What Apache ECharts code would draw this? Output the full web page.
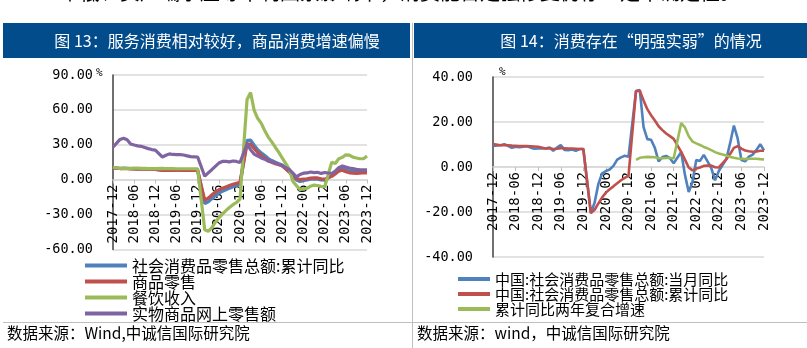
<!DOCTYPE html>
<html><head><meta charset="utf-8">
<script src="https://cdn.jsdelivr.net/npm/echarts@6/dist/echarts.min.js"></script>
<style>html,body{margin:0;padding:0;background:#fff}#c{width:807px;height:348px}</style>
</head><body><div id="c"></div>
<script>
const months = [
 '2017-12',
 '2018-01','2018-02','2018-03','2018-04','2018-05','2018-06','2018-07','2018-08','2018-09','2018-10','2018-11','2018-12',
 '2019-01','2019-02','2019-03','2019-04','2019-05','2019-06','2019-07','2019-08','2019-09','2019-10','2019-11','2019-12',
 '2020-01','2020-02','2020-03','2020-04','2020-05','2020-06','2020-07','2020-08','2020-09','2020-10','2020-11','2020-12',
 '2021-01','2021-02','2021-03','2021-04','2021-05','2021-06','2021-07','2021-08','2021-09','2021-10','2021-11','2021-12',
 '2022-01','2022-02','2022-03','2022-04','2022-05','2022-06','2022-07','2022-08','2022-09','2022-10','2022-11','2022-12',
 '2023-01','2023-02','2023-03','2023-04','2023-05','2023-06','2023-07','2023-08','2023-09','2023-10','2023-11','2023-12'
];
// Figure 13 (cumulative YoY, %)
const retailTotalCum = [10.2,
 null,9.7,9.8,9.7,9.5,9.4,9.3,9.3,9.3,9.2,9.1,9.0,
 null,8.2,8.3,8.0,8.1,8.4,8.3,8.2,8.2,8.1,8.0,8.0,
 null,-20.5,-19.0,-16.2,-13.5,-11.4,-9.9,-8.6,-7.2,-5.9,-4.8,-3.9,
 null,33.8,33.9,29.6,25.7,23.0,20.7,18.1,16.4,14.9,13.7,12.5,
 null,6.7,3.3,-0.2,-1.5,-0.7,-0.2,0.5,0.7,0.6,-0.1,-0.2,
 null,3.5,5.8,8.5,9.3,8.2,7.3,7.0,6.8,6.9,7.2,7.2];
const goodsRetail = [10.2,
 null,9.6,9.6,9.5,9.3,9.2,9.1,9.1,9.1,9.0,8.9,8.9,
 null,8.0,8.2,7.9,7.9,8.3,8.1,8.1,8.0,8.0,7.9,7.9,
 null,-17.6,-15.8,-13.1,-10.5,-8.7,-7.4,-6.2,-5.0,-3.9,-3.0,-2.3,
 null,30.7,30.4,26.8,23.4,20.6,18.5,16.5,15.0,13.7,12.8,11.8,
 null,6.5,4.0,1.1,0.1,0.5,0.8,1.4,1.5,1.5,0.7,0.5,
 null,2.9,4.9,7.4,8.1,6.8,5.9,5.6,5.5,5.7,6.0,5.8];
const cateringIncome = [10.7,
 null,9.6,9.7,9.8,9.7,9.9,9.9,9.8,9.8,9.6,9.5,9.5,
 null,9.7,9.6,9.6,9.5,9.4,9.4,9.4,9.4,9.4,9.4,9.4,
 null,-43.1,-44.3,-41.4,-36.5,-32.8,-29.6,-26.6,-23.9,-21.5,-19.6,-16.6,
 null,68.9,75.0,59.8,52.8,48.6,42.3,36.6,32.5,27.9,23.4,18.6,
 null,8.9,-1.5,-5.1,-8.5,-7.7,-7.5,-5.6,-4.6,-5.0,-5.7,-6.3,
 null,15.1,13.9,18.0,19.2,21.4,21.1,19.4,18.7,18.0,18.0,20.4];
const onlineGoods = [28.0,
 null,34.6,35.7,34.4,30.7,29.8,29.1,28.7,27.7,26.7,25.9,25.4,
 null,19.5,21.0,22.2,21.7,21.6,21.6,21.2,20.5,19.8,19.7,19.5,
 null,3.0,5.9,8.6,11.5,14.3,15.7,15.8,15.3,16.1,15.7,14.8,
 null,30.6,25.8,22.0,20.4,18.7,17.6,15.9,15.2,14.6,13.2,12.0,
 null,8.7,5.6,2.5,4.5,5.6,5.8,6.6,6.1,6.4,5.4,6.2,
 null,5.3,7.3,10.4,11.8,10.8,10.0,9.5,8.9,8.4,8.5,8.4];
// Figure 14 (%)
const retailMonthly = [9.4,
 null,9.7,10.1,9.4,8.5,9.0,8.8,9.0,9.2,8.6,8.1,8.2,
 null,8.2,8.7,7.2,8.6,9.8,7.6,7.5,7.8,7.2,8.0,8.0,
 null,-20.5,-15.8,-7.5,-2.8,-1.8,-1.1,0.5,3.3,4.3,5.0,4.6,
 null,33.8,34.2,17.7,12.4,12.1,8.5,2.5,4.4,4.9,3.9,1.7,
 null,6.7,-3.5,-11.1,-6.7,3.1,2.7,5.4,2.5,-0.5,-5.9,-1.8,
 null,3.5,10.6,18.4,12.7,3.1,2.5,4.6,5.5,7.6,10.1,7.4];
const retailCum = [10.2,
 null,9.7,9.8,9.7,9.5,9.4,9.3,9.3,9.3,9.2,9.1,9.0,
 null,8.2,8.3,8.0,8.1,8.4,8.3,8.2,8.2,8.1,8.0,8.0,
 null,-20.5,-19.0,-16.2,-13.5,-11.4,-9.9,-8.6,-7.2,-5.9,-4.8,-3.9,
 null,33.8,33.9,29.6,25.7,23.0,20.7,18.1,16.4,14.9,13.7,12.5,
 null,6.7,3.3,-0.2,-1.5,-0.7,-0.2,0.5,0.7,0.6,-0.1,-0.2,
 null,3.5,5.8,8.5,9.3,8.2,7.3,7.0,6.8,6.9,7.2,7.2];
const twoYearCagr = [null,
 null,null,null,null,null,null,null,null,null,null,null,null,
 null,null,null,null,null,null,null,null,null,null,null,null,
 null,null,null,null,null,null,null,null,null,null,null,null,
 null,3.2,4.1,4.3,4.5,4.4,4.3,3.9,3.9,4.0,4.0,3.9,
 null,19.5,17.6,13.7,11.3,10.5,9.8,8.9,8.3,7.5,6.6,6.0,
 null,5.1,4.5,4.1,3.8,3.7,3.5,3.7,3.7,3.7,3.5,3.4];

const leftNames = ['社会消费品零售总额:累计同比','商品零售','餐饮收入','实物商品网上零售额'];
const rightNames = ['中国:社会消费品零售总额:当月同比','中国:社会消费品零售总额:累计同比','累计同比两年复合增速'];
const colors = ['#4F81BD','#C0504D','#9BBB59','#8064A2'];

const numFont = 'DejaVu Sans Mono';
const cjkFont = 'Noto Sans CJK SC';

function xAxisCfg(gi, off){
  return {
    type:'category', gridIndex:gi, data:months, boundaryGap:false, position:'bottom', offset:off,
    axisLine:{onZero:false, lineStyle:{color:'#d9d9d9', width:1.5}},
    axisTick:{show:true, interval:5, length:4, lineStyle:{color:'#bfbfbf'}},
    axisLabel:{interval:5, rotate:90, margin:5, color:'#000', fontSize:14, fontFamily:numFont},
    splitLine:{show:false}
  };
}
function yAxisCfg(gi, min, max, itv){
  return {
    type:'value', gridIndex:gi, min:min, max:max, interval:itv,
    axisLine:{show:true, onZero:false, lineStyle:{color:'#404040', width:1.5}},
    axisTick:{show:false},
    axisLabel:{margin:20, color:'#000', fontSize:13.5, fontFamily:numFont, formatter:v=>v.toFixed(2)},
    splitLine:{show:true, lineStyle:{color:'#d9d9d9', width:1.5}}
  };
}
function line(name, data, gi, color, w){
  return {name:name, type:'line', xAxisIndex:gi, yAxisIndex:gi, data:data, connectNulls:true,
    symbol:'none', lineStyle:{color:color, width:w}, itemStyle:{color:color}};
}

const chart = echarts.init(document.getElementById('c'), null, {renderer:'canvas'});
chart.setOption({
  animation:false,
  backgroundColor:'#fff',
  grid:[
    {left:113, right:440, top:75, bottom:98.5},
    {left:493, right:43, top:77, bottom:91}
  ],
  xAxis:[xAxisCfg(0, -70), xAxisCfg(1, -90)],
  yAxis:[yAxisCfg(0,-60,90,30), yAxisCfg(1,-40,40,20)],
  legend:[
    {data:leftNames, orient:'vertical', left:80, top:252.5, itemWidth:42, itemHeight:4, itemGap:0, icon:'rect',
     textStyle:{fontSize:16, lineHeight:15, color:'#000', fontFamily:cjkFont}, selectedMode:false},
    {data:rightNames, orient:'vertical', left:453, top:266.5, itemWidth:32, itemHeight:4, itemGap:0, icon:'rect',
     textStyle:{fontSize:15, lineHeight:14.5, color:'#000', fontFamily:cjkFont}, selectedMode:false}
  ],
  series:[
    line(leftNames[0], retailTotalCum, 0, colors[0], 3.4),
    line(leftNames[1], goodsRetail, 0, colors[1], 3.2),
    line(leftNames[2], cateringIncome, 0, colors[2], 3.2),
    line(leftNames[3], onlineGoods, 0, colors[3], 3.2),
    line(rightNames[0], retailMonthly, 1, colors[0], 2.6),
    line(rightNames[1], retailCum, 1, colors[1], 2.6),
    line(rightNames[2], twoYearCagr, 1, colors[2], 2.6)
  ],
  graphic:[
    {type:'text', left:60, top:-18, silent:true,
     style:{text:'中低、资产端承压等不利因素影响下，消费能否走强修复仍存一定不确定性。', fontSize:20, fontFamily:cjkFont, fill:'#000'}},
    {type:'rect', shape:{x:3, y:23, width:407, height:35}, style:{fill:'#034C8C'}, silent:true},
    {type:'rect', shape:{x:414, y:23, width:393, height:35}, style:{fill:'#034C8C'}, silent:true},
    {type:'text', x:217, y:41, silent:true,
     style:{text:'图 13：服务消费相对较好，商品消费增速偏慢', fontSize:16, fontFamily:cjkFont, fill:'#fff', align:'center', verticalAlign:'middle'}},
    {type:'text', x:631, y:41, silent:true,
     style:{text:'图 14：消费存在“明强实弱”的情况', fontSize:16, fontFamily:cjkFont, fill:'#fff', align:'center', verticalAlign:'middle'}},
    {type:'line', shape:{x1:412.5, y1:23, x2:412.5, y2:348}, style:{stroke:'#bfbfbf', lineWidth:1}, silent:true},
    {type:'line', shape:{x1:3, y1:322.5, x2:807, y2:322.5}, style:{stroke:'#bfbfbf', lineWidth:1}, silent:true},
    {type:'text', x:96, y:73, silent:true,
     style:{text:'%', fontSize:11, fontFamily:numFont, fill:'#000', align:'left', verticalAlign:'middle'}},
    {type:'text', x:499, y:72, silent:true,
     style:{text:'%', fontSize:11, fontFamily:numFont, fill:'#000', align:'left', verticalAlign:'middle'}},
    {type:'text', x:7, y:333, silent:true,
     style:{text:'数据来源：Wind,中诚信国际研究院', fontSize:15.5, fontFamily:cjkFont, fill:'#000', align:'left', verticalAlign:'middle'}},
    {type:'text', x:417, y:333, silent:true,
     style:{text:'数据来源：wind，中诚信国际研究院', fontSize:15.5, fontFamily:cjkFont, fill:'#000', align:'left', verticalAlign:'middle'}}
  ]
});
</script></body></html>
